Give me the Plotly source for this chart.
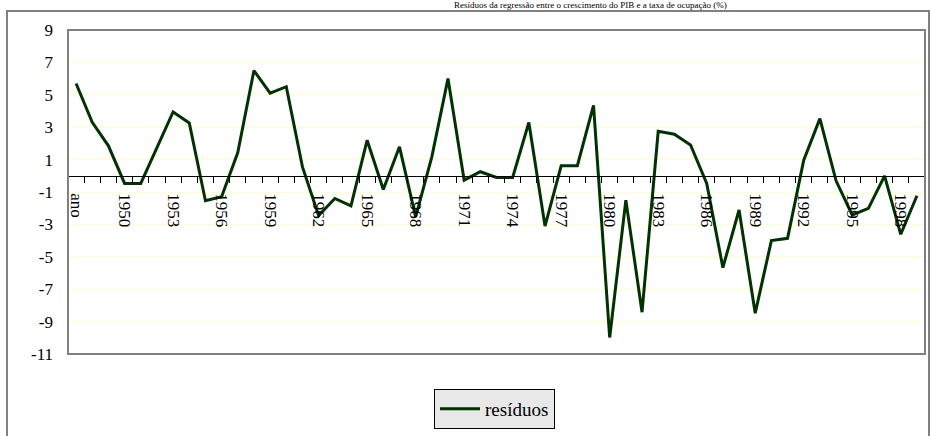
import plotly.graph_objects as go

# Categories on the horizontal axis (first entry is the header cell "ano")
anos = [
    "ano", "1948", "1949", "1950", "1951", "1952", "1953", "1954", "1955",
    "1956", "1957", "1958", "1959", "1960", "1961", "1962", "1963", "1964",
    "1965", "1966", "1967", "1968", "1969", "1970", "1971", "1972", "1973",
    "1974", "1975", "1976", "1977", "1978", "1979", "1980", "1981", "1982",
    "1983", "1984", "1985", "1986", "1987", "1988", "1989", "1990", "1991",
    "1992", "1993", "1994", "1995", "1996", "1997", "1998", "1999",
]

# Regression residuals (%)
residuos = [
    5.7, 3.3, 1.85, -0.47, -0.47, 1.75, 3.94, 3.26, -1.54, -1.29,
    1.44, 6.5, 5.1, 5.5, 0.55, -2.46, -1.4, -1.85, 2.2, -0.84,
    1.79, -2.53, 1.17, 6.0, -0.27, 0.25, -0.1, -0.1, 3.29, -3.1,
    0.62, 0.62, 4.35, -9.98, -1.5, -8.42, 2.75, 2.57, 1.9, -0.47,
    -5.67, -2.11, -8.48, -4.0, -3.86, 0.97, 3.53, -0.31, -2.42, -2.01,
    0.0, -3.61, -1.23,
]

# Only every third category gets a label; every category gets a tick mark
rotulos_x = [a if i % 3 == 0 else "" for i, a in enumerate(anos)]
valores_y = [-11, -9, -7, -5, -3, -1, 1, 3, 5, 7, 9]

titulo = "Resíduos da regressão entre o crescimento do PIB e a taxa de ocupação (%)"

FONTE = "Liberation Serif, Times New Roman, serif"
W, H = 930, 436
ML, MR, MT, MB = 68, 5, 30, 82
PW, PH = W - ML - MR, H - MT - MB
Y_MIN, Y_MAX = -11, 9


def px_x(x):
    return (x - ML) / PW


def px_y(y):
    return (H - MB - y) / PH


fig = go.Figure()
fig.add_trace(go.Scatter(
    x=anos,
    y=residuos,
    mode="lines",
    name="resíduos",
    line=dict(color="#003300", width=3),
))

fig.update_layout(
    width=W,
    height=H,
    margin=dict(l=ML, r=MR, t=MT, b=MB, pad=0),
    paper_bgcolor="white",
    plot_bgcolor="white",
    font=dict(family=FONTE, size=17, color="black"),
    showlegend=True,
    legend=dict(
        x=px_x(434), y=px_y(389), xanchor="left", yanchor="top",
        bgcolor="#E8E8E8", bordercolor="black", borderwidth=1,
        font=dict(family=FONTE, size=19, color="black"),
        itemwidth=40,
    ),
    xaxis=dict(
        type="category",
        categoryorder="array",
        categoryarray=anos,
        range=[-0.5, len(anos) - 0.5],
        tickmode="array",
        tickvals=anos,
        ticktext=rotulos_x,
        tickson="boundaries",
        ticks="outside",
        ticklen=6,
        tickcolor="black",
        tickwidth=1,
        tickangle=90,
        ticklabelstandoff=13,
        showline=True,
        linecolor="black",
        linewidth=1,
        showgrid=False,
        anchor="free",
        position=(0 - Y_MIN) / (Y_MAX - Y_MIN),
        tickfont=dict(family=FONTE, size=17, color="black"),
    ),
    yaxis=dict(
        range=[Y_MIN, Y_MAX],
        tickmode="array",
        tickvals=valores_y,
        ticktext=[str(v) for v in valores_y],
        showgrid=True,
        gridcolor="#FFFFC8",
        gridwidth=1,
        zeroline=False,
        showline=False,
        ticks="",
        ticklabelstandoff=14,
        tickfont=dict(family=FONTE, size=17, color="black"),
        domain=[0, 1],
    ),
    shapes=[
        # plot area frame
        dict(type="rect", xref="paper", yref="paper", x0=0, x1=1, y0=0, y1=1,
             line=dict(color="#808080", width=2), layer="above"),
        # chart area frame
        dict(type="rect", xref="paper", yref="paper",
             x0=px_x(7), x1=px_x(929), y0=px_y(445), y1=px_y(11),
             line=dict(color="#808080", width=2), layer="below"),
    ],
    annotations=[
        dict(text=titulo, xref="paper", yref="paper", x=px_x(590), y=px_y(-1),
             xanchor="center", yanchor="top", showarrow=False, borderpad=0,
             font=dict(family=FONTE, size=9, color="black")),
    ],
)

fig.write_html("out.html")
